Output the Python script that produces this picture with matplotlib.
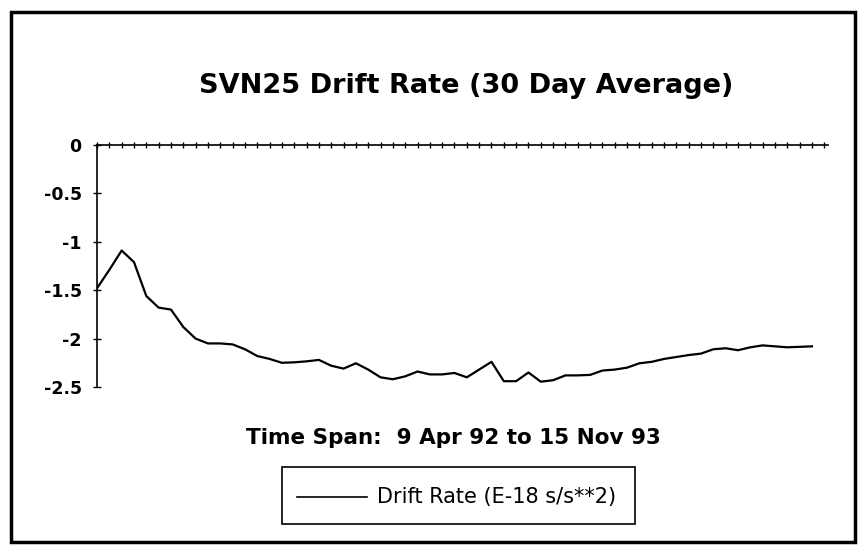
import matplotlib
matplotlib.use("Agg")
import matplotlib.pyplot as plt
from matplotlib.patches import Rectangle
from matplotlib.lines import Line2D

# 10-day samples, 9 Apr 92 .. Nov 93
drift_rate = [-1.48, -1.29, -1.09, -1.21, -1.56, -1.68, -1.70, -1.88, -2.00, -2.05,
              -2.05, -2.06, -2.11, -2.18, -2.21, -2.25, -2.245, -2.235, -2.22, -2.28,
              -2.31, -2.255, -2.32, -2.40, -2.42, -2.39, -2.34, -2.37, -2.37, -2.355,
              -2.40, -2.32, -2.24, -2.44, -2.44, -2.35, -2.445, -2.43, -2.38, -2.38,
              -2.375, -2.33, -2.32, -2.30, -2.255, -2.24, -2.21, -2.19, -2.17, -2.155,
              -2.11, -2.10, -2.12, -2.09, -2.07, -2.08, -2.09, -2.085, -2.08]
y_ticks = [0, -0.5, -1, -1.5, -2, -2.5]
y_tick_labels = ["0", "-0.5", "-1", "-1.5", "-2", "-2.5"]
title = "SVN25 Drift Rate (30 Day Average)"
subtitle = "Time Span:  9 Apr 92 to 15 Nov 93"
legend_label = "Drift Rate (E-18 s/s**2)"

W, H = 859, 550
plt.rcParams['font.family'] = ['DejaVu Sans']
fig = plt.figure(figsize=(W / 100, H / 100), dpi=100)

def fx(px):
    return px / W

def fy(py):
    return 1 - py / H

ax_left, ax_right, ax_top, ax_bot = 97, 828, 145, 387
ax = fig.add_axes([fx(ax_left), fy(ax_bot), fx(ax_right - ax_left), (ax_bot - ax_top) / H])

x = list(range(len(drift_rate)))
ax.plot(x, drift_rate, color="black", lw=1.6, label=legend_label)

ax.set_xlim(0, 59.3)
ax.set_ylim(-2.5, 0)
for s in ["right", "bottom"]:
    ax.spines[s].set_visible(False)
ax.spines["left"].set_linewidth(1.2)
ax.spines["top"].set_linewidth(1.2)
ax.spines["top"].set_position(("data", 0))
ax.spines["left"].set_bounds(-2.5, 0)

ax.xaxis.set_ticks_position("top")
ax.set_xticks(range(0, 60))
ax.tick_params(axis="x", direction="inout", length=5, width=1, labeltop=False, labelbottom=False)
ax.set_yticks(y_ticks)
ax.set_yticklabels(y_tick_labels, fontsize=12.5, fontweight="bold")
ax.tick_params(axis="y", direction="inout", length=6, width=1, pad=8)
ax.patch.set_alpha(0)

fig.text(fx(466), fy(86), title, ha="center", va="center", fontsize=19.5, fontweight="bold")
fig.text(fx(453), fy(438), subtitle, ha="center", va="center", fontsize=15.5, fontweight="bold")

# legend box
fig.patches.append(Rectangle((fx(282), fy(524)), fx(635 - 282), (524 - 467) / H,
                             transform=fig.transFigure, fill=False, ec="black", lw=1.2))
fig.lines.append(Line2D([fx(297), fx(367)], [fy(497), fy(497)], transform=fig.transFigure,
                        color="black", lw=1.2))
fig.text(fx(377), fy(497), legend_label, ha="left", va="center", fontsize=15)

# outer frame
fig.patches.append(Rectangle((fx(11), fy(542)), fx(855 - 11), (542 - 12) / H,
                             transform=fig.transFigure, fill=False, ec="black", lw=2.5))

fig.savefig("out.png", dpi=100)
